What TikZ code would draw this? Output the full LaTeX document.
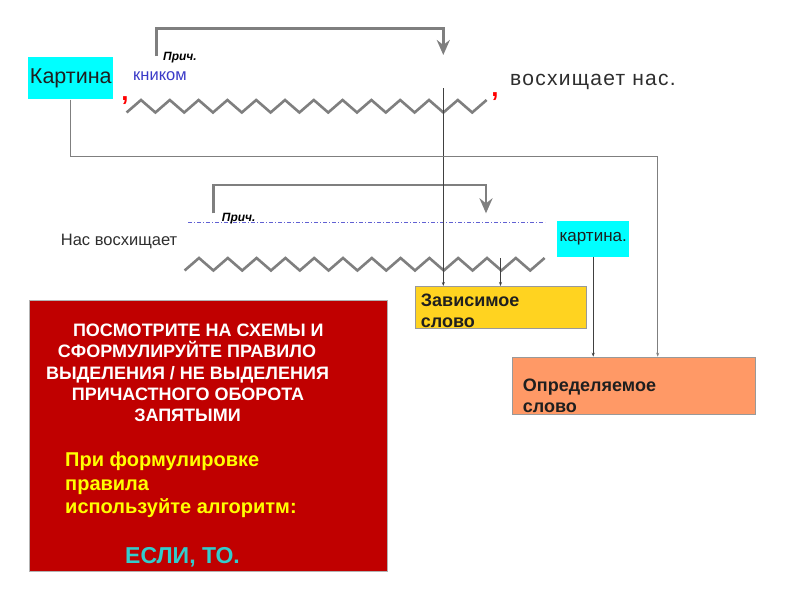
\documentclass[tikz,border=0pt]{standalone}
\usepackage{fontspec}
\setmainfont{Liberation Sans}
\usetikzlibrary{arrows.meta}
\definecolor{cyanbox}{HTML}{00FFFF}
\definecolor{zavfill}{HTML}{FFD320}
\definecolor{oprfill}{HTML}{FF9966}
\definecolor{redfill}{HTML}{C00000}
\definecolor{txtdark}{HTML}{1F1F1F}
\definecolor{txtgray}{HTML}{2E2E2E}
\definecolor{bluetxt}{HTML}{3A3AC8}
\definecolor{linegray}{HTML}{7F7F7F}
\definecolor{darkline}{HTML}{404040}
\definecolor{yellowtxt}{HTML}{FFFF00}
\definecolor{cyantxt}{HTML}{33CCCC}
\definecolor{commared}{HTML}{FF0000}
\newcommand\fsz[2]{\fontsize{#1}{#2}\selectfont}
\tikzset{
  cyanlabel/.style={fill=cyanbox, inner sep=0pt, text=txtdark},
  wordtext/.style={inner sep=0pt, anchor=base west, text=txtgray},
  prichtext/.style={inner sep=0pt, anchor=base west, font=\fsz{12}{14}\bfseries\itshape},
  commamark/.style={inner sep=0pt, anchor=base, text=commared, font=\fsz{26}{28}\bfseries},
  zigline/.style={draw=linegray, line width=2.6pt, line join=miter},
  bracketline/.style={draw=linegray, line width=2.6pt, line join=miter, -{Stealth[length=15pt,width=13pt,inset=5pt]}},
  thinarrow/.style={draw=#1, line width=0.9pt, -{Stealth[length=4pt,width=3pt]}},
  boxshape/.style={draw=gray!80, line width=0.8pt, inner sep=0pt, anchor=north west},
  boxtext/.style={inner sep=0pt, anchor=base west, text=txtdark, font=\fsz{18}{20}\bfseries},
  rulewhite/.style={inner sep=0pt, anchor=base, text=white, font=\fsz{18}{21}\bfseries},
  ruleyellow/.style={inner sep=0pt, anchor=base west, text=yellowtxt, font=\fsz{20}{23}\bfseries},
  bluedash/.style={draw=bluetxt!80, line width=1pt, dash pattern=on 4pt off 2pt on 1pt off 2pt},
}
\begin{document}
\begin{tikzpicture}[x=1pt,y=-1pt]
\useasboundingbox[fill=white] (0,0) rectangle (800,600);

% ---------- first sentence ----------
\node[cyanlabel, minimum width=85pt, minimum height=42pt, font=\fsz{21.5}{24}] (kart1) at (70.8,78.3) {Картина};
\node[commamark] (cm1) at (125,100) {,};
\node[commamark] (cm2) at (495,96) {,};
\node[wordtext, font=\fsz{21}{24}\addfontfeature{LetterSpace=6}] (vosh) at (510,85) {восхищает нас.};
\node[wordtext, text=bluetxt, font=\fsz{16.5}{19}] (knik) at (133,80) {кником};
\node[prichtext] (pr1) at (163,60.7) {Прич.};

\coordinate (z1start) at (126.6,112.5);
\draw[zigline] (z1start) \foreach \k in {1,...,25} { -- ++(14.4,{-12.5*(2*mod(\k,2)-1)}) };

\coordinate (b1start) at (156.7,56);
\coordinate (b1end) at (443.3,55);
\draw[bracketline] (b1start) -- ++(0,-27.7) -| (b1end);

% ---------- second sentence ----------
\node[wordtext, font=\fsz{16.5}{20}] (nas) at (60.7,245) {Нас восхищает};
\draw[bluedash] (188,222) -- (545,222);
\node[prichtext] (pr2) at (221.7,221.7) {Прич.};
\node[cyanlabel, minimum width=71.7pt, minimum height=35.7pt, font=\fsz{17}{19}] (kart2) at (593.2,238.9) {картина.};

\coordinate (z2start) at (184.6,270.5);
\draw[zigline] (z2start) \foreach \k in {1,...,25} { -- ++(14.4,{-12.5*(2*mod(\k,2)-1)}) };

\coordinate (b2start) at (213.3,213.3);
\coordinate (b2end) at (486,213.3);
\draw[bracketline] (b2start) -- ++(0,-28.3) -| (b2end);

% ---------- boxes ----------
\node[boxshape, fill=zavfill, minimum width=170.7pt, minimum height=42pt] (zav) at (415,286) {};
\node[boxtext] (zavA) at (420.7,306.7) {Зависимое};
\node[boxtext] (zavB) at (420.7,327.5) {слово};

\node[boxshape, fill=oprfill, minimum width=243.3pt, minimum height=57.3pt] (opr) at (511.7,356.7) {};
\node[boxtext] (oprA) at (522.7,391.7) {Определяемое};
\node[boxtext] (oprB) at (522.7,412.5) {слово};

% ---------- connectors ----------
\coordinate (v1top) at (443.3,88);
\draw[thinarrow=darkline] (v1top) -- (v1top |- zav.north);
\coordinate (v2top) at (500.5,258);
\draw[thinarrow=darkline] (v2top) -- (v2top |- zav.north);
\coordinate (routeR) at (657.7,156);
\draw[thinarrow=linegray] (kart1.south) |- (routeR) -- (routeR |- opr.north);
\draw[thinarrow=darkline] (kart2.south) -- (kart2.south |- opr.north);

% ---------- rule box ----------
\node[boxshape, draw=gray!60, fill=redfill, minimum width=357.7pt, minimum height=271pt] (rule) at (29,300) {};
\node[rulewhite] (r1) at (198.3,336.7) {ПОСМОТРИТЕ НА СХЕМЫ И};
\node[rulewhite] (r2) at (187,357.9) {СФОРМУЛИРУЙТЕ ПРАВИЛО};
\node[rulewhite] (r3) at (187.5,379.2) {ВЫДЕЛЕНИЯ / НЕ ВЫДЕЛЕНИЯ};
\node[rulewhite] (r4) at (188,400.4) {ПРИЧАСТНОГО ОБОРОТА};
\node[rulewhite] (r5) at (187.5,421.7) {ЗАПЯТЫМИ};
\node[ruleyellow] (y1) at (65,466.7) {При формулировке};
\node[ruleyellow] (y2) at (65,490) {правила};
\node[ruleyellow] (y3) at (65,513.3) {используйте алгоритм:};
\node[inner sep=0pt, anchor=base west, text=cyantxt, font=\fsz{23}{26}\bfseries] (esli) at (125,563) {ЕСЛИ, ТО.};
\end{tikzpicture}
\end{document}
